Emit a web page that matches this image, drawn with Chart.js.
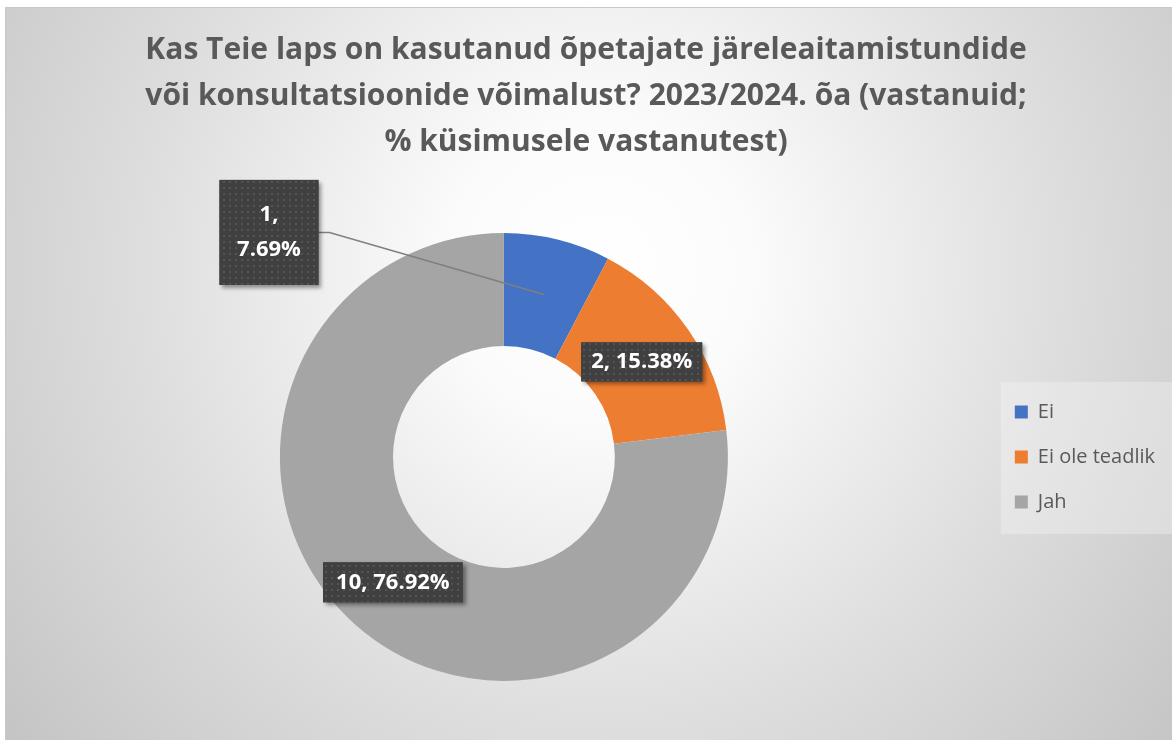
<!DOCTYPE html>
<html><head><meta charset="utf-8">
<script src="https://cdn.jsdelivr.net/npm/chart.js@4.4.1/dist/chart.umd.min.js"></script>
<style>html,body{margin:0;padding:0;background:#fff;overflow:hidden}#wrap{position:absolute;left:0;top:0;width:1172px;height:740px}</style>
</head><body><div id="wrap"><canvas id="c"></canvas></div>
<script>
// ---- data ----
const categories = ['Ei', 'Ei ole teadlik', 'Jah'];
const counts = [1, 2, 10];
const titleLines = [
  'Kas Teie laps on kasutanud õpetajate järeleaitamistundide',
  'või konsultatsioonide võimalust? 2023/2024. õa (vastanuid;',
  '% küsimusele vastanutest)'
];
const sliceColors = ['#4472C4', '#ED7D31', '#A5A5A5'];

// ---- label styling (positions relative to slice centre) ----
const labelStyle = [
  { dx: -275, dy: -62, w: 99, h: 105, wrap: true, leader: true },
  { dx: 0, dy: 0, padX: 10, h: 39 },
  { dx: 0, dy: 0, padX: 13, h: 40 }
];
const FONT = "'Open Sans'";

const total = counts.reduce((a, b) => a + b, 0);

// dotted pattern for label boxes
const pc = document.createElement('canvas');
pc.width = 6; pc.height = 6;
const px = pc.getContext('2d');
px.fillStyle = '#404040'; px.fillRect(0, 0, 6, 6);
px.fillStyle = '#545454'; px.fillRect(1, 1, 2, 2);

const bgPlugin = {
  id: 'bg',
  afterLayout(chart) {
    // legend column spans the plot height (below the title); title centred on full width
    const lg = chart.legend, ca = chart.chartArea;
    if (lg) { lg.top = ca.top; lg.bottom = ca.bottom; lg.height = ca.bottom - ca.top; }
    const t = chart.titleBlock;
    if (t) { t.left = 0; t.right = chart.width; t.width = chart.width; }
  },
  beforeDraw(chart) {
    const ctx = chart.ctx, W = chart.width, H = chart.height;
    ctx.save();
    ctx.fillStyle = '#ffffff';
    ctx.fillRect(0, 0, W, H);
    const g = ctx.createRadialGradient(600, 270, 0, 600, 270, 760);
    g.addColorStop(0, '#ffffff');
    g.addColorStop(0.2, '#fbfbfb');
    g.addColorStop(0.6, '#dedede');
    g.addColorStop(1, '#c4c4c4');
    ctx.fillStyle = g;
    ctx.fillRect(5, 7, W - 5, H - 7);
    ctx.strokeStyle = '#c8c8c8';
    ctx.lineWidth = 1;
    ctx.beginPath();
    ctx.moveTo(5.5, H); ctx.lineTo(5.5, 7.5); ctx.lineTo(W, 7.5);
    ctx.stroke();
    // legend background
    const lg = chart.legend;
    if (lg && lg.legendHitBoxes && lg.legendHitBoxes.length) {
      const hb = lg.legendHitBoxes;
      const x = hb[0].left - 14, y = hb[0].top - 20;
      const yb = hb[hb.length - 1].top + hb[hb.length - 1].height + 22;
      ctx.fillStyle = 'rgba(255,255,255,0.28)';
      ctx.fillRect(x, y, W - x, yb - y);
    }
    ctx.restore();
  }
};

const labelPlugin = {
  id: 'boxLabels',
  afterDatasetsDraw(chart) {
    const ctx = chart.ctx;
    const meta = chart.getDatasetMeta(0);
    const pattern = ctx.createPattern(pc, 'repeat');
    ctx.save();
    ctx.font = 'bold 22px ' + FONT;
    ctx.textAlign = 'center';
    ctx.textBaseline = 'middle';
    meta.data.forEach((arc, i) => {
      const p = arc.getCenterPoint();
      const st = labelStyle[i];
      const pct = (counts[i] / total * 100).toFixed(2) + '%';
      const lines = st.wrap ? [counts[i] + ',', pct] : [counts[i] + ', ' + pct];
      const cx = p.x + st.dx, cy = p.y + st.dy;
      let w = st.w;
      if (!w) w = ctx.measureText(lines[0]).width + 2 * st.padX;
      const h = st.h;
      const x0 = cx - w / 2, y0 = cy - h / 2;
      if (st.leader) {
        ctx.save();
        ctx.strokeStyle = '#7f7f7f';
        ctx.lineWidth = 1.5;
        ctx.beginPath();
        ctx.moveTo(x0 + w, cy);
        ctx.lineTo(x0 + w + 11, cy);
        ctx.lineTo(p.x, p.y);
        ctx.stroke();
        ctx.restore();
      }
      ctx.save();
      ctx.shadowColor = 'rgba(0,0,0,0.4)';
      ctx.shadowBlur = 4;
      ctx.shadowOffsetX = 3;
      ctx.shadowOffsetY = 3;
      ctx.fillStyle = '#404040';
      ctx.fillRect(x0, y0, w, h);
      ctx.restore();
      ctx.fillStyle = pattern;
      ctx.fillRect(x0, y0, w, h);
      ctx.fillStyle = '#ffffff';
      const lh = 35;
      lines.forEach((t, k) => {
        ctx.fillText(t, cx, cy + (k - (lines.length - 1) / 2) * lh);
      });
    });
    ctx.restore();
  }
};

new Chart(document.getElementById('c'), {
  type: 'doughnut',
  data: {
    labels: categories,
    datasets: [{
      data: counts,
      backgroundColor: sliceColors,
      borderWidth: 0,
      hoverOffset: 0
    }]
  },
  options: {
    responsive: true,
    maintainAspectRatio: false,
    animation: false,
    devicePixelRatio: 1,
    cutout: '49.5%',
    layout: { padding: { top: 7, left: 18, right: 7, bottom: 59 } },
    plugins: {
      tooltip: { enabled: false },
      title: {
        display: true,
        text: titleLines,
        color: '#595959',
        font: { family: FONT, size: 30, weight: 'bold', lineHeight: 46 / 30 },
        padding: { top: 20, bottom: 68 }
      },
      legend: {
        position: 'right',
        align: 'center',
        labels: {
          boxWidth: 13,
          boxHeight: 13,
          padding: 25,
          color: '#595959',
          font: { family: FONT, size: 20 }
        }
      }
    }
  },
  plugins: [bgPlugin, labelPlugin]
});
</script>
</body></html>
